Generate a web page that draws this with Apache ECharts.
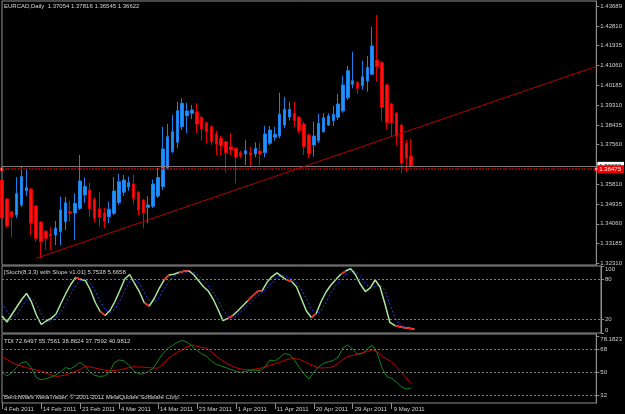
<!DOCTYPE html>
<html>
<head>
<meta charset="utf-8">
<script src="https://cdn.jsdelivr.net/npm/echarts@6/dist/echarts.min.js"></script>
<style>
html, body { margin: 0; padding: 0; background: #000; }
#chart { width: 625px; height: 414px; }
</style>
</head>
<body>
<div id="chart"></div>
<script>
// EURCAD daily bars (oldest first)
var opens = [1.35996,1.35156,1.34595,1.34449,1.34891,1.35519,1.35598,1.34847,1.34139,1.33728,
  1.33609,1.33565,1.33711,1.34153,1.34595,1.34537,1.34745,1.35333,1.35554,1.35143,
  1.34727,1.34537,1.34374,1.34524,1.35001,1.35457,1.35687,1.35819,1.35452,1.35112,
  1.34789,1.34833,1.35289,1.35700,1.36513,1.37247,1.37663,1.38353,1.38839,1.38945,
  1.39016,1.38768,1.38529,1.38353,1.38030,1.37840,1.37689,1.37468,1.37398,1.37203,
  1.37146,1.37203,1.37146,1.37278,1.37203,1.37619,1.37884,1.37941,1.38428,1.38781,
  1.38945,1.38768,1.38472,1.37986,1.37544,1.37734,1.38132,1.38428,1.38618,1.38768,
  1.39047,1.39635,1.40227,1.40298,1.40165,1.40373,1.40669,1.41301,1.41182,1.40196,
  1.39356,1.38945,1.38428,1.37619,1.37054];
var highs = [1.36085,1.35200,1.34626,1.36129,1.36593,1.36496,1.35643,1.34891,1.34184,1.33786,
  1.33932,1.34184,1.35258,1.35258,1.35090,1.35408,1.37101,1.36107,1.35886,1.35245,
  1.35466,1.34758,1.35037,1.36116,1.36261,1.36217,1.36142,1.36239,1.35510,1.35156,
  1.35289,1.36018,1.36540,1.38353,1.38472,1.38870,1.39458,1.39608,1.39414,1.39312,
  1.39387,1.38826,1.38582,1.38406,1.38176,1.37941,1.37743,1.38061,1.37455,1.37291,
  1.37765,1.37468,1.37663,1.37632,1.38397,1.38384,1.38353,1.39856,1.39666,1.39458,
  1.39458,1.38826,1.38574,1.38052,1.38574,1.38914,1.38945,1.38945,1.39268,1.39798,
  1.40594,1.41036,1.41668,1.40373,1.41270,1.41478,1.42774,1.43291,1.41257,1.40240,
  1.39400,1.39002,1.38494,1.37765,1.37816];
var lows = [1.33476,1.33874,1.33454,1.34316,1.34803,1.35289,1.33565,1.33268,1.32535,1.32901,
  1.32888,1.33123,1.33123,1.33786,1.34153,1.33344,1.34670,1.34979,1.34369,1.34117,
  1.33954,1.33861,1.34082,1.34449,1.34891,1.35289,1.35523,1.34913,1.34449,1.33865,
  1.34082,1.34758,1.35200,1.35554,1.36438,1.37177,1.37398,1.38207,1.38061,1.38680,
  1.38061,1.37734,1.37619,1.37544,1.37101,1.37101,1.36319,1.37101,1.35850,1.36956,
  1.36659,1.36557,1.37000,1.36659,1.37000,1.37544,1.37734,1.37840,1.38282,1.38636,
  1.38353,1.38061,1.37101,1.36956,1.37026,1.37632,1.38087,1.38384,1.38384,1.38649,
  1.38972,1.39533,1.40050,1.39798,1.39975,1.39900,1.40638,1.40342,1.38605,1.38220,
  1.37911,1.37544,1.36292,1.36363,1.36545];
var closes = [1.34316,1.33963,1.34374,1.35399,1.36151,1.35656,1.34082,1.33419,1.33268,1.33419,
  1.33520,1.33874,1.34670,1.34993,1.34524,1.34966,1.35952,1.35709,1.34727,1.34303,
  1.34347,1.34162,1.34705,1.35510,1.35921,1.35996,1.35886,1.35187,1.34670,1.34537,
  1.34891,1.35819,1.36107,1.37367,1.37911,1.38132,1.39060,1.39387,1.39047,1.39091,
  1.38472,1.38251,1.38132,1.37689,1.37588,1.37499,1.37203,1.37322,1.37000,1.37057,
  1.37291,1.37088,1.37398,1.37146,1.38030,1.38207,1.38017,1.38905,1.39122,1.39122,
  1.38618,1.38176,1.37468,1.37146,1.37941,1.38503,1.38750,1.38826,1.38901,1.39356,
  1.40196,1.40828,1.40386,1.40050,1.40563,1.40979,1.41920,1.41005,1.39210,1.38529,
  1.38529,1.37941,1.36734,1.36956,1.36622];

// Stoch(8,3,3) with slope
var stochK = [25.4,16.4,27.6,38.8,50,59,46.3,26.9,12.7,17.9,21.9,28.4,44,59,72.4,82.8,80.3,78.2,64.2,45.5,
  32.1,26.1,33.6,47,63.4,80.6,87.3,73.9,61.2,44.8,40.3,51.5,66.4,79.1,86.6,87.8,90.3,92.2,93,87.3,
  78.4,69.4,62.7,50.7,35.1,18.4,21.9,26.1,32.8,40.3,47.8,55.2,61.9,63.1,76.1,84.3,89.6,84.3,79.1,76.9,
  68.7,50.7,32.8,23.1,29.1,47,61.2,71.6,79.9,87.6,92.5,96.1,86.9,72.7,61.9,67.2,79.1,68.7,43.3,15.7,
  11.2,9.4,7.9,7.2,5.7538];
var stochD = [45,32,23.1,27.6,38.8,49.3,51.8,44.1,28.6,19.2,17.5,22.7,31.4,43.8,58.5,71.4,78.5,80.4,74.2,62.6,
  47.3,34.6,30.6,35.6,48,63.7,77.1,80.6,74.1,60,48.8,45.5,52.7,65.7,77.4,84.5,88.2,90.1,91.8,90.8,
  86.2,78.4,70.2,60.9,49.5,34.7,25.1,22.1,26.9,33.1,40.3,47.8,55,60.1,67,74.5,83.3,86.1,84.3,80.1,
  74.9,65.4,50.7,35.5,28.3,33.1,45.8,59.9,70.9,79.7,86.7,92.1,91.8,85.2,73.8,67.3,69.4,71.7,63.7,42.6,
  23.4,12.1,9.5,8.2,5.6658];
// bar ranges where the slope indicator paints the main line red
var stochRedRanges = [[15,16],[20,21],[29,30],[33,34],[36,38],[46,47],[50,51],[52,53],[58,59],[63,64],[69,70],[80,84]];

// TDI: price line (green) and trade signal line (red)
var tdiGreen = [50.3,47.1,49.4,53.8,57.4,58.1,53.6,46,44.1,44.9,46.1,47.7,50.4,53.6,52.5,54.7,57.7,55,50.3,47.6,
  46.7,47.1,49.4,57,59.5,58.9,55.6,51.3,48.6,48.6,50.4,53,58.7,64.4,68.4,70.7,73.2,74.7,73.2,70.4,
  67,64.2,62.4,58.5,56.1,54.8,53.5,52.1,50.7,49.9,50.7,51.4,51.6,51.2,54,59.5,58.6,61.3,64.4,63.7,
  59.5,53.8,48.7,44.7,50.2,54.1,56.8,58.1,59.1,61.8,68.8,71.3,67.8,63.9,64.5,67.9,70.9,65,53.3,46.4,
  45.2,42.3,38.6,37,37.7592];
var tdiRed = [61.9,59.9,57.5,56,54.7,53.6,52.6,51.7,50.8,49.4,48.1,46.7,47.1,47.8,49.1,50.5,52,54.3,54.1,53.3,
  52.5,51.7,50.9,51.3,51.7,52.6,53.6,54.2,54,53.9,53.6,53.3,53.1,56.1,60.2,63,65.4,67.5,69.7,71,
  70.2,69.2,68.6,65.7,62.5,59.5,57.1,55.2,53.5,52.5,51.9,52,52.5,52.9,54.3,55.4,56.5,57.8,59.2,60.2,
  60.7,60,58.3,56.4,54.9,53.4,53.3,53.6,54.3,57,60,62.3,63,64.1,65.1,66.1,67.5,65.7,62.6,60.2,
  58,54,49.8,45.5,40.9812];

// axis labels
var dateLabels = ['4 Feb 2011','14 Feb 2011','23 Feb 2011','4 Mar 2011','14 Mar 2011','23 Mar 2011',
  '1 Apr 2011','11 Apr 2011','20 Apr 2011','29 Apr 2011','9 May 2011'];
var priceTicks = [1.43689,1.42810,1.41935,1.41060,1.40185,1.39310,1.38435,1.37560,
  1.35810,1.34935,1.34060,1.33185,1.32310];
var stochTicks = [0,20,80,100];
var tdiTicks = [26.1572,32,50,68,78.1823];
var stochLevels = [80,20];
var tdiLevels = [68,50,32];

var bidPrice = 1.36622;
var levelPrice = 1.36475;
var trendStart = [7, 1.32535];
var trendEnd = [122, 1.41020];

var barSlots = 123; // visible bar slots incl. empty space on the right
var labelStep = 8;

var cats = [];
for (var i = 0; i < barSlots; i++) cats.push(String(i));

var candles = [];
for (var i = 0; i < opens.length; i++) {
  candles.push([opens[i], closes[i], lows[i], highs[i]]);
}

var stochRed = stochK.map(function (v, i) {
  for (var r = 0; r < stochRedRanges.length; r++) {
    if (i >= stochRedRanges[r][0] && i <= stochRedRanges[r][1]) return v;
  }
  return null;
});

var txt = '#cfcfcf';
var frame = '#8e8e8e';
var font = 'Liberation Sans';
var fs = 6;

function showDate(idx) {
  return idx % labelStep === 0 && idx / labelStep < dateLabels.length;
}

function levelLines(levels) {
  return {
    silent: true, symbol: ['none', 'none'], animation: false, precision: 4,
    label: { show: false },
    lineStyle: { color: '#7c7c7c', type: [2, 2], width: 1 },
    data: levels.map(function (l) { return { yAxis: l }; })
  };
}

var chart = echarts.init(document.getElementById('chart'));

var option = {
  backgroundColor: '#000000',
  animation: false,
  textStyle: { fontFamily: font },
  grid: [
    { left: 2, right: 24, top: 1, height: 264, show: true, borderColor: frame, borderWidth: 1 },
    { left: 2, right: 24, top: 266, height: 67, show: true, borderColor: frame, borderWidth: 1 },
    { left: 2, right: 24, top: 334, height: 69, show: true, borderColor: frame, borderWidth: 1 }
  ],
  xAxis: [
    { gridIndex: 0, type: 'category', data: cats, boundaryGap: false, show: false },
    { gridIndex: 1, type: 'category', data: cats, boundaryGap: false, show: false },
    {
      gridIndex: 2, type: 'category', data: cats, boundaryGap: false,
      axisLine: { show: false },
      axisTick: { show: true, interval: function (idx) { return showDate(idx); }, length: 6, lineStyle: { color: frame } },
      axisLabel: {
        interval: function (idx) { return showDate(idx); },
        formatter: function (v, idx) { return showDate(idx) ? dateLabels[idx / labelStep] : ''; },
        color: txt, fontSize: fs, fontFamily: font, align: 'left', margin: 3, padding: [0, 0, 0, 2]
      },
      splitLine: { show: false }
    }
  ],
  yAxis: [
    {
      gridIndex: 0, type: 'value', position: 'right', min: 1.32239, max: 1.43910,
      splitLine: { show: false },
      axisLine: { show: true, lineStyle: { color: frame } },
      axisTick: { show: true, length: 3, customValues: priceTicks, lineStyle: { color: frame } },
      axisLabel: {
        customValues: priceTicks, margin: 4, color: txt, fontSize: fs, fontFamily: font,
        formatter: function (v) { return v.toFixed(5); }
      }
    },
    {
      gridIndex: 1, type: 'value', position: 'right', min: 0, max: 100,
      splitLine: { show: false },
      axisLine: { show: true, lineStyle: { color: frame } },
      axisTick: { show: true, length: 3, customValues: stochTicks, lineStyle: { color: frame } },
      axisLabel: {
        customValues: stochTicks, margin: 4, color: txt, fontSize: fs, fontFamily: font,
        formatter: function (v) {
          if (v === 100) return '{t|100}';
          if (v === 0) return '{b|0}';
          return String(v);
        },
        rich: {
          t: { padding: [6, 0, 0, 0], color: txt, fontSize: fs, fontFamily: font },
          b: { padding: [0, 0, 6, 0], color: txt, fontSize: fs, fontFamily: font }
        }
      }
    },
    {
      gridIndex: 2, type: 'value', position: 'right', min: 26.11, max: 79.64,
      splitLine: { show: false },
      axisLine: { show: true, lineStyle: { color: frame } },
      axisTick: { show: true, length: 3, customValues: tdiTicks, lineStyle: { color: frame } },
      axisLabel: {
        customValues: tdiTicks, margin: 4, color: txt, fontSize: fs, fontFamily: font,
        formatter: function (v) {
          if (v === tdiTicks[tdiTicks.length - 1]) return '{t|' + v.toFixed(4) + '}';
          if (v === tdiTicks[0]) return '{b|' + v.toFixed(4) + '}';
          return String(v);
        },
        rich: {
          t: { padding: [7, 0, 0, 0], color: txt, fontSize: fs, fontFamily: font },
          b: { padding: [0, 0, 7, 0], color: txt, fontSize: fs, fontFamily: font }
        }
      }
    }
  ],
  graphic: [
    { type: 'text', left: 4, top: 3, style: { text: 'EURCAD,Daily  1.37054 1.37816 1.36545 1.36622', fill: '#d6d6d6', fontSize: fs, fontFamily: font } },
    { type: 'text', left: 4, top: 269, style: { text: '[Stoch(8,3,3) with Slope v1.01] 5.7538 5.6658', fill: '#d6d6d6', fontSize: fs, fontFamily: font } },
    { type: 'text', left: 4, top: 338, style: { text: 'TDI 72.6497 55.7561 38.8624 37.7592 40.9812', fill: '#d6d6d6', fontSize: fs, fontFamily: font } },
    { type: 'text', left: 4, top: 394, style: { text: 'BenchMark MetaTrader. \u00a9 2001-2011 MetaQuotes Software Corp.', fill: '#d6d6d6', fontSize: fs, fontFamily: font } }
  ],
  series: [
    {
      type: 'candlestick', xAxisIndex: 0, yAxisIndex: 0, data: candles, barWidth: 3,
      itemStyle: { color: '#1e90ff', color0: '#ff1010', borderColor: '#1a7fe6', borderColor0: '#e00000', borderWidth: 1 }
    },
    {
      // horizontal level with its end handles; carries the price lines and the trendline
      type: 'scatter', xAxisIndex: 0, yAxisIndex: 0, symbol: 'rect', symbolSize: 3, silent: true,
      data: [[0, levelPrice], [barSlots - 1, levelPrice]],
      itemStyle: { color: '#ffffff', borderColor: '#ff0000', borderWidth: 1 },
      z: 3,
      markLine: {
        silent: true, symbol: ['none', 'none'], animation: false, precision: 5,
        label: { show: false },
        data: [
          {
            yAxis: bidPrice,
            lineStyle: { color: '#7a7a7a', type: 'solid', width: 1 },
            label: { show: true, position: 'end', distance: 1, formatter: bidPrice.toFixed(5),
              backgroundColor: '#ffffff', color: '#000000', fontSize: fs, fontFamily: font, padding: [1, 3, 1, 2] }
          },
          {
            yAxis: levelPrice,
            lineStyle: { color: '#b40000', type: [2, 1], width: 1.5 },
            label: { show: true, position: 'end', distance: 1, formatter: levelPrice.toFixed(5),
              backgroundColor: '#ee0000', color: '#ffffff', fontSize: fs, fontFamily: font, padding: [1, 3, 1, 2] }
          },
          [
            { coord: trendStart, lineStyle: { color: '#b40000', type: 'solid', width: 1 } },
            { coord: trendEnd }
          ]
        ]
      }
    },
    {
      type: 'line', xAxisIndex: 1, yAxisIndex: 1, data: stochD, showSymbol: false, silent: true,
      lineStyle: { color: '#2a3cff', width: 1, type: [2, 2] }
    },
    {
      type: 'line', xAxisIndex: 1, yAxisIndex: 1, data: stochK, showSymbol: false, silent: true,
      lineStyle: { color: '#a6e6a0', width: 1.5 },
      markLine: levelLines(stochLevels)
    },
    {
      type: 'line', xAxisIndex: 1, yAxisIndex: 1, data: stochRed, showSymbol: false, silent: true,
      connectNulls: false, lineStyle: { color: '#ff1a1a', width: 1.5 }
    },
    {
      type: 'line', xAxisIndex: 2, yAxisIndex: 2, data: tdiRed, showSymbol: false, silent: true,
      lineStyle: { color: '#c80000', width: 1 },
      markLine: levelLines(tdiLevels)
    },
    {
      type: 'line', xAxisIndex: 2, yAxisIndex: 2, data: tdiGreen, showSymbol: false, silent: true,
      lineStyle: { color: '#13841a', width: 1 }
    }
  ]
};

chart.setOption(option);
</script>
</body>
</html>
